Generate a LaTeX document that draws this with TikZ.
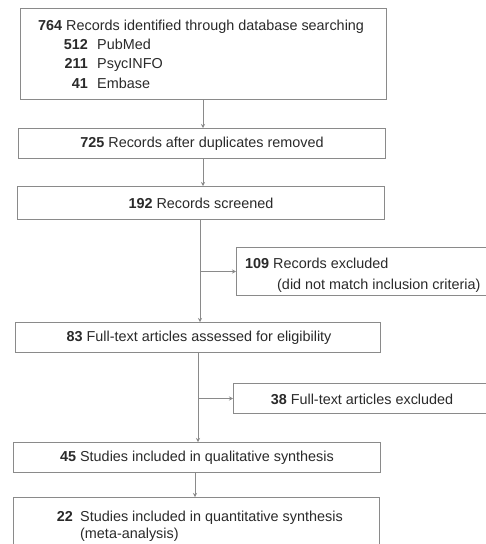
\documentclass[tikz,border=0pt]{standalone}
\usepackage{fontspec}
\setmainfont{Liberation Sans}
\usetikzlibrary{arrows.meta,calc}
\definecolor{boxgray}{HTML}{8A8A8A}
\definecolor{txtgray}{HTML}{2A2A2A}
\begin{document}
\begin{tikzpicture}[x=1pt,y=-1pt,
  box/.style={draw=boxgray,line width=1pt,rectangle,anchor=north west,inner sep=0pt},
  txt/.style={text=txtgray,font=\fontsize{14.4}{16}\selectfont,inner sep=0pt},
  conn/.style={draw=boxgray,line width=1pt},
  arr/.style={conn,-{Stealth[length=4pt,width=4pt]}}]
\useasboundingbox[fill=white] (0,0) rectangle (486,544);
% boxes
\node[box,minimum width=366,minimum height=91] (b1) at (20,8) {};
\node[box,minimum width=367,minimum height=30] (b2) at (18,128) {};
\node[box,minimum width=367,minimum height=33] (b3) at (17,186) {};
\node[box,minimum width=262,minimum height=48] (b4) at (236,247) {};
\node[box,minimum width=365,minimum height=30] (b5) at (15,322) {};
\node[box,minimum width=262,minimum height=30] (b6) at (233,383) {};
\node[box,minimum width=367,minimum height=30] (b7) at (13,442) {};
\node[box,minimum width=366,minimum height=60] (b8) at (13,497) {};
% texts
\node[txt,anchor=base west] (t1) at (38,30) {\textbf{764} Records identified through database searching};
\node[txt,anchor=base east] (n1a) at (88,49) {\textbf{512}};
\node[txt,anchor=base west] (t1a) at (97,49) {PubMed};
\node[txt,anchor=base east] (n1b) at (88,68) {\textbf{211}};
\node[txt,anchor=base west] (t1b) at (97,68) {PsycINFO};
\node[txt,anchor=base east] (n1c) at (88,88) {\textbf{41}};
\node[txt,anchor=base west] (t1c) at (97,88) {Embase};
\node[txt] (t2) at (202,144) {\textbf{725} Records after duplicates removed};
\node[txt] (t3) at (201,203) {\textbf{192} Records screened};
\node[txt,anchor=base west] (t4) at (245,268) {\textbf{109} Records excluded};
\node[txt,anchor=base west] (t4b) at (277,289) {(did not match inclusion criteria)};
\node[txt] (t5) at (199,338) {\textbf{83} Full-text articles assessed for eligibility};
\node[txt] (t6) at (362,399) {\textbf{38} Full-text articles excluded};
\node[txt] (t7) at (197,458) {\textbf{45} Studies included in qualitative synthesis};
\node[txt,anchor=base east] (n8) at (73,521) {\textbf{22}};
\node[txt,anchor=base west] (t8) at (80,521) {Studies included in quantitative synthesis};
\node[txt,anchor=base west] (t8b) at (80,538) {(meta-analysis)};
% connectors
\coordinate (c1) at (203,99);
\draw[arr] (c1) -- (c1 |- b2.north);
\coordinate (c2) at (203,158);
\draw[arr] (c2) -- (c2 |- b3.north);
\coordinate (c3) at (200,219);
\draw[arr] (c3) -- (c3 |- b5.north);
\draw[arr] (c3 |- b4.west) -- (b4.west);
\coordinate (c4) at (198,352);
\draw[arr] (c4) -- (c4 |- b7.north);
\draw[arr] (c4 |- b6.west) -- (b6.west);
\coordinate (c5) at (195,472);
\draw[arr] (c5) -- (c5 |- b8.north);
\end{tikzpicture}
\end{document}
